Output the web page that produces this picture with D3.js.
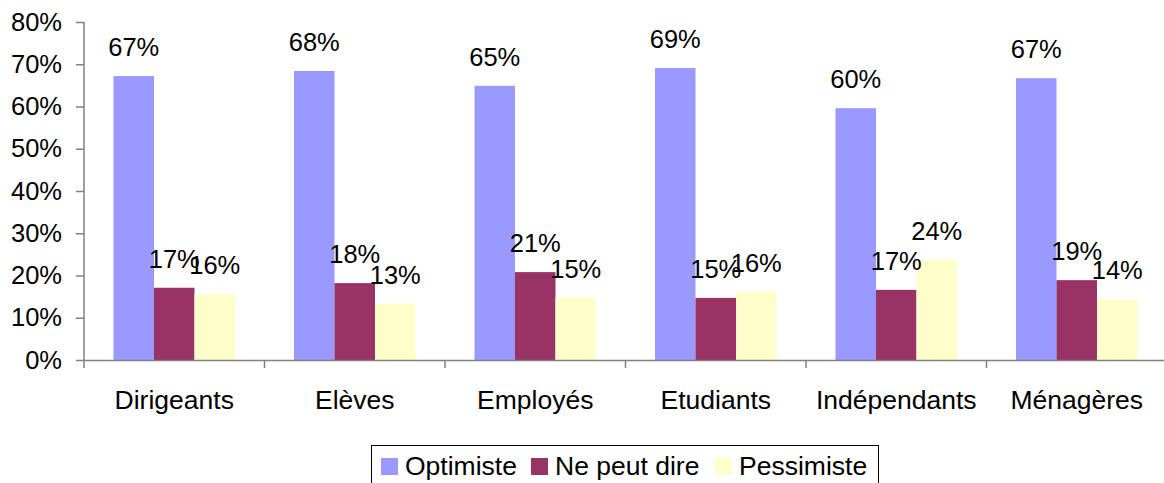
<!DOCTYPE html>
<meta charset="utf-8">
<html>
<head>
<title>Optimisme par catégorie</title>
<script src="https://cdnjs.cloudflare.com/ajax/libs/d3/7.8.5/d3.min.js"></script>
<style>
body { margin: 0; background: #fff; }
svg { font-family: "Liberation Sans", Arial, sans-serif; }
</style>
</head>
<body>
<div id="chart"></div>
<script>
// donnees
var categories = ["Dirigeants", "Elèves", "Employés", "Etudiants", "Indépendants", "Ménagères"];
var series = ["Optimiste", "Ne peut dire", "Pessimiste"];
var optimiste = [0.672, 0.684, 0.649, 0.691, 0.596, 0.667];
var nePeutDire = [0.171, 0.182, 0.208, 0.147, 0.166, 0.189];
var pessimiste = [0.156, 0.133, 0.147, 0.162, 0.237, 0.144];
var yTicks = [0, 0.1, 0.2, 0.3, 0.4, 0.5, 0.6, 0.7, 0.8];
var colors = ["#9999FF", "#993366", "#FFFFCC"];

var values = [optimiste, nePeutDire, pessimiste];
var W = 1164, H = 483;
var svg = d3.select("#chart").append("svg").attr("width", W).attr("height", H);

var x = d3.scaleBand().domain(categories).range([84, 1167]).paddingInner(0).paddingOuter(0);
var x1 = d3.scaleBand().domain(series).range([0, x.bandwidth()]).paddingInner(0).paddingOuter(0.728);
var y = d3.scaleLinear().domain([0, 0.8]).range([360, 22]);

// axe y
var yAxis = svg.append("g").attr("transform", "translate(84,0)")
  .call(d3.axisLeft(y).tickValues(yTicks).tickFormat(d3.format(".0%")).tickSize(8).tickPadding(14));
yAxis.select(".domain").attr("stroke", "#808080").attr("stroke-width", 1.5).attr("d", "M0,22V368");
yAxis.selectAll(".tick line").attr("stroke", "#808080").attr("stroke-width", 1.5);
yAxis.selectAll("text").style("font-size", "25.5px").attr("fill", "#000");

// barres
var groups = svg.selectAll(".grp").data(categories).enter().append("g")
  .attr("transform", function (d) { return "translate(" + x(d) + ",0)"; });
series.forEach(function (s, si) {
  groups.append("rect")
    .attr("x", x1(s))
    .attr("width", x1.bandwidth())
    .attr("y", function (d, i) { return y(values[si][i]); })
    .attr("height", function (d, i) { return 360 - y(values[si][i]); })
    .attr("fill", colors[si]);
});
series.forEach(function (s, si) {
  groups.append("text")
    .attr("x", x1(s) + x1.bandwidth() / 2)
    .attr("y", function (d, i) { return y(values[si][i]) - 20; })
    .attr("text-anchor", "middle")
    .style("font-size", "25.5px")
    .text(function (d, i) { return Math.round(values[si][i] * 100) + "%"; });
});

// axe x
var xAxis = svg.append("g").attr("transform", "translate(0,360)")
  .call(d3.axisBottom(x).tickSize(0).tickPadding(30));
xAxis.select(".domain").attr("stroke", "#808080").attr("stroke-width", 1.5);
xAxis.selectAll("text").style("font-size", "26.5px").attr("fill", "#000");
var bounds = categories.map(function (c) { return x(c); }).concat([x.range()[1]]);
svg.append("g").selectAll("line").data(bounds.slice(1)).enter().append("line")
  .attr("x1", function (d) { return d; }).attr("x2", function (d) { return d; })
  .attr("y1", 360).attr("y2", 368)
  .attr("stroke", "#808080").attr("stroke-width", 1.5);

// legende
var legend = svg.append("g");
legend.append("rect").attr("x", 371.5).attr("y", 445.5).attr("width", 507).attr("height", 60)
  .attr("fill", "none").attr("stroke", "#000").attr("stroke-width", 1);
var legX = [381, 531, 715];
series.forEach(function (s, si) {
  legend.append("rect").attr("x", legX[si]).attr("y", 458).attr("width", 17).attr("height", 17).attr("fill", colors[si]);
  legend.append("text").attr("x", legX[si] + 24).attr("y", 475).style("font-size", "26.5px").text(s);
});
</script>
</body>
</html>
